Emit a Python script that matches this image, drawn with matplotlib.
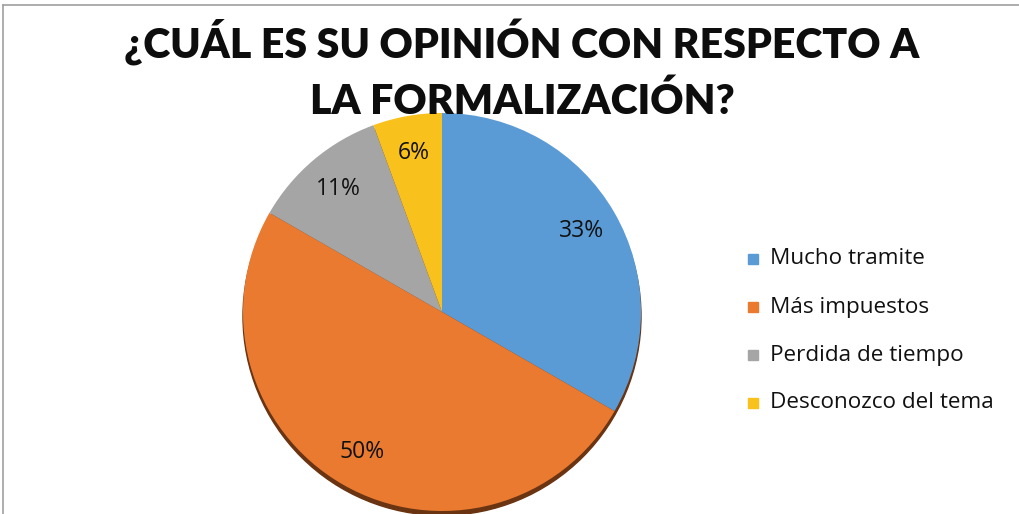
import matplotlib
matplotlib.use("Agg")
import matplotlib.pyplot as plt
from matplotlib.patches import Circle, Rectangle
from matplotlib.lines import Line2D

categories = ["Mucho tramite", "Más impuestos", "Perdida de tiempo", "Desconozco del tema"]
values = [33.3, 50.0, 11.1, 5.6]
colors = ["#5b9bd5", "#e97a30", "#a5a5a5", "#f9c11c"]
title = "¿CUÁL ES SU OPINIÓN CON RESPECTO A\nLA FORMALIZACIÓN?"

W, H = 1019, 514
fig = plt.figure(figsize=(W / 100, H / 100), dpi=100)
fig.patch.set_facecolor("white")

# border lines (top & left)
fig.add_artist(Line2D([3 / W, 1], [1 - 5 / H, 1 - 5 / H], color="#a0a0a0", lw=1.2))
fig.add_artist(Line2D([3 / W, 3 / W], [0, 1 - 5 / H], color="#a0a0a0", lw=1.2))

cx, cy, r = 442, 312, 199
ax = fig.add_axes([(cx - r) / W, (H - cy - r) / H, 2 * r / W, 2 * r / H])

shadow = Circle((0.0, -0.022), 1.0, color="#6a3412", zorder=0, clip_on=False)
ax.add_patch(shadow)
wedges, texts, autotexts = ax.pie(
    values, colors=colors, startangle=90, counterclock=False, radius=1.0,
    autopct="%1.0f%%", pctdistance=0.81,
    wedgeprops=dict(linewidth=0, zorder=2),
    textprops=dict(fontsize=16.5, family="Open Sans", color="#111111"),
)
ax.set_xlim(-1, 1)
ax.set_ylim(-1, 1)
ax.axis("off")
for w in wedges:
    w.set_clip_on(False)
    w.set_zorder(2)
for t in autotexts:
    t.set_zorder(3)

fig.text(522 / W, 1 - 70 / H, title, ha="center", va="center", fontsize=29.5,
         family="Lato", fontweight="heavy", color="#0d0d0d", linespacing=1.5)

# legend
ys = [259, 307, 355, 403]
for lab, col, y in zip(categories, colors, ys):
    fig.add_artist(Rectangle((748 / W, 1 - (y + 5) / H), 10 / W, 10 / H,
                             transform=fig.transFigure, color=col))
    fig.text(770 / W, 1 - y / H, lab, ha="left", va="center", fontsize=16.2,
             family="Open Sans", color="#111111")

fig.savefig("out.png", dpi=100, facecolor="white")
